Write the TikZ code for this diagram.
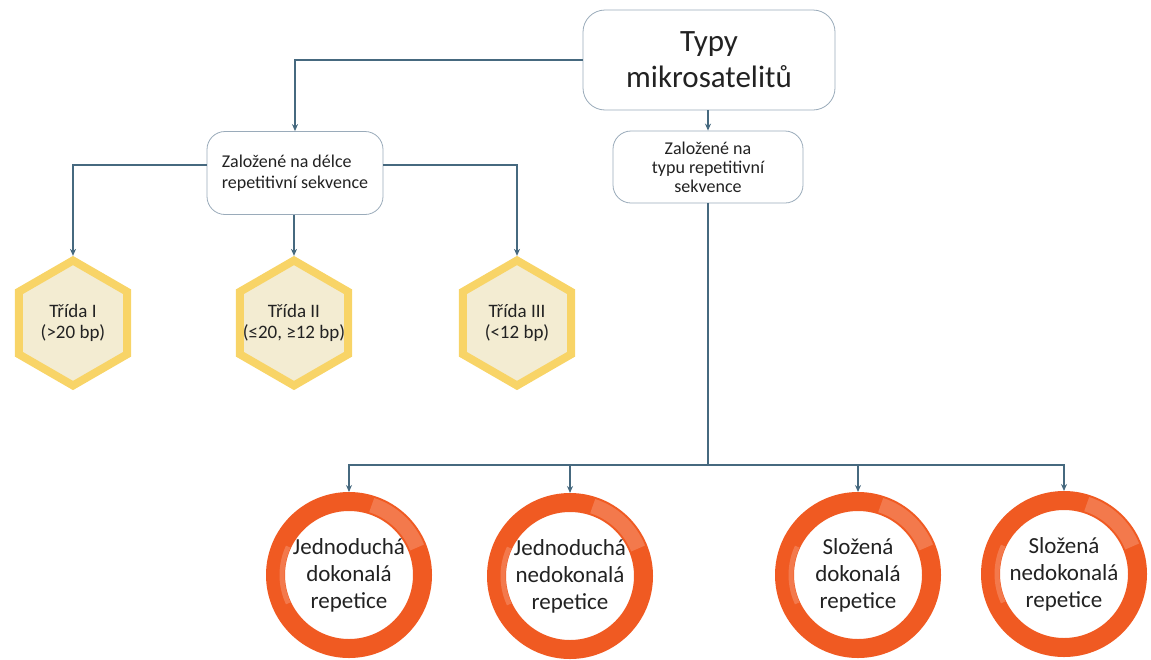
\documentclass[tikz,border=0pt]{standalone}
\usepackage{fontspec}
\setmainfont{Carlito}
\usetikzlibrary{shapes.geometric, positioning, arrows.meta}

\definecolor{linkblue}{HTML}{46697F}
\definecolor{boxgray}{HTML}{9AABBA}
\definecolor{hexfill}{HTML}{F3ECD2}
\definecolor{hexedge}{HTML}{F8D467}
\definecolor{ringred}{HTML}{F05A22}
\definecolor{ringlight}{HTML}{F8A080}
\definecolor{textdark}{HTML}{222222}

\begin{document}
\begin{tikzpicture}[
    x=1pt, y=-1pt,
    rootbox/.style={rectangle, rounded corners=22pt, draw=boxgray, thick, fill=white, minimum width=252pt, minimum height=100pt, align=center, font=\fontsize{31}{36}\selectfont, text=textdark},
    groupbox/.style={rectangle, rounded corners=18pt, draw=boxgray, thick, fill=white, font=\fontsize{18}{21}\selectfont, text=textdark},
    hexa/.style={regular polygon, regular polygon sides=6, shape border rotate=30, minimum size=125pt, inner sep=0pt, draw=hexedge, line width=8pt, fill=hexfill},
    hextext/.style={align=center, font=\fontsize{19}{21}\selectfont, text=textdark},
    ring/.style={circle, minimum size=147pt, inner sep=0pt, draw=ringred, line width=19pt, fill=white, align=center, font=\fontsize{23}{27}\selectfont, text=textdark},
    arrow/.style={-{Stealth[length=7pt, width=6pt]}, draw=linkblue, line width=2pt},
    line/.style={draw=linkblue, line width=2pt},
]
\useasboundingbox (0,0) rectangle (1151,659);

%% NODES
    % root
    \node[rootbox] (types) at (709,60) {Typy\\mikrosatelitů};

    % by length / by type of the repeat
    \node[groupbox, minimum width=176pt, minimum height=83pt, align=left] (bylength) at (295,173) {Založené na délce\\repetitivní sekvence};
    \node[groupbox, minimum width=190pt, minimum height=72pt, align=center, font=\fontsize{18}{19}\selectfont] (bytype) at (708,167) {Založené na\\typu repetitivní\\sekvence};

    % classes
    \node[hexa, label={[hextext]center:Třída I\\(>20 bp)}] (class1) at (73,323) {};
    \node[hexa, label={[hextext]center:Třída II\\(≤20, ≥12 bp)}] (class2) at (294,323) {};
    \node[hexa, label={[hextext]center:Třída III\\(<12 bp)}] (class3) at (517,323) {};

    % repeat kinds
    \node[ring] (simple_perfect) at (349,575) {Jednoduchá\\dokonalá\\repetice};
    \node[ring] (simple_imperfect) at (570,576) {Jednoduchá\\nedokonalá\\repetice};
    \node[ring] (compound_perfect) at (858,575) {Složená\\dokonalá\\repetice};
    \node[ring] (compound_imperfect) at (1064,574) {Složená\\nedokonalá\\repetice};

    % light glare on the rings
    \foreach \r in {simple_perfect, simple_imperfect, compound_perfect, compound_imperfect} {
        \draw[ringlight, line width=15pt, opacity=0.45] ([shift={(22:73.5pt)}]\r.center) arc[start angle=22, end angle=72, radius=73.5pt];
        \draw[ringlight, line width=5pt, opacity=0.45] ([shift={(155:67pt)}]\r.center) arc[start angle=155, end angle=205, radius=67pt];
    }

%% CONNECTIONS
    % root -> groups
    \draw[arrow] (types.west) -| (bylength.north);
    \draw[arrow] (bytype.north |- types.south) -- (bytype.north);

    % length -> classes
    \draw[arrow] ([yshift=8pt]bylength.west) -| (class1.north);
    \draw[arrow] (bylength.south -| class2.north) -- (class2.north);
    \draw[arrow] ([yshift=8pt]bylength.east) -| (class3.north);

    % type -> repeat kinds
    \coordinate (split) at (bytype.south |- 0,465);
    \draw[line] (bytype.south) -- (split);
    \draw[arrow] (split) -| (simple_perfect.north);
    \draw[arrow] (split) -| (simple_imperfect.north);
    \draw[arrow] (split) -| (compound_perfect.north);
    \draw[arrow] (split) -| (compound_imperfect.north);

\end{tikzpicture}
\end{document}
